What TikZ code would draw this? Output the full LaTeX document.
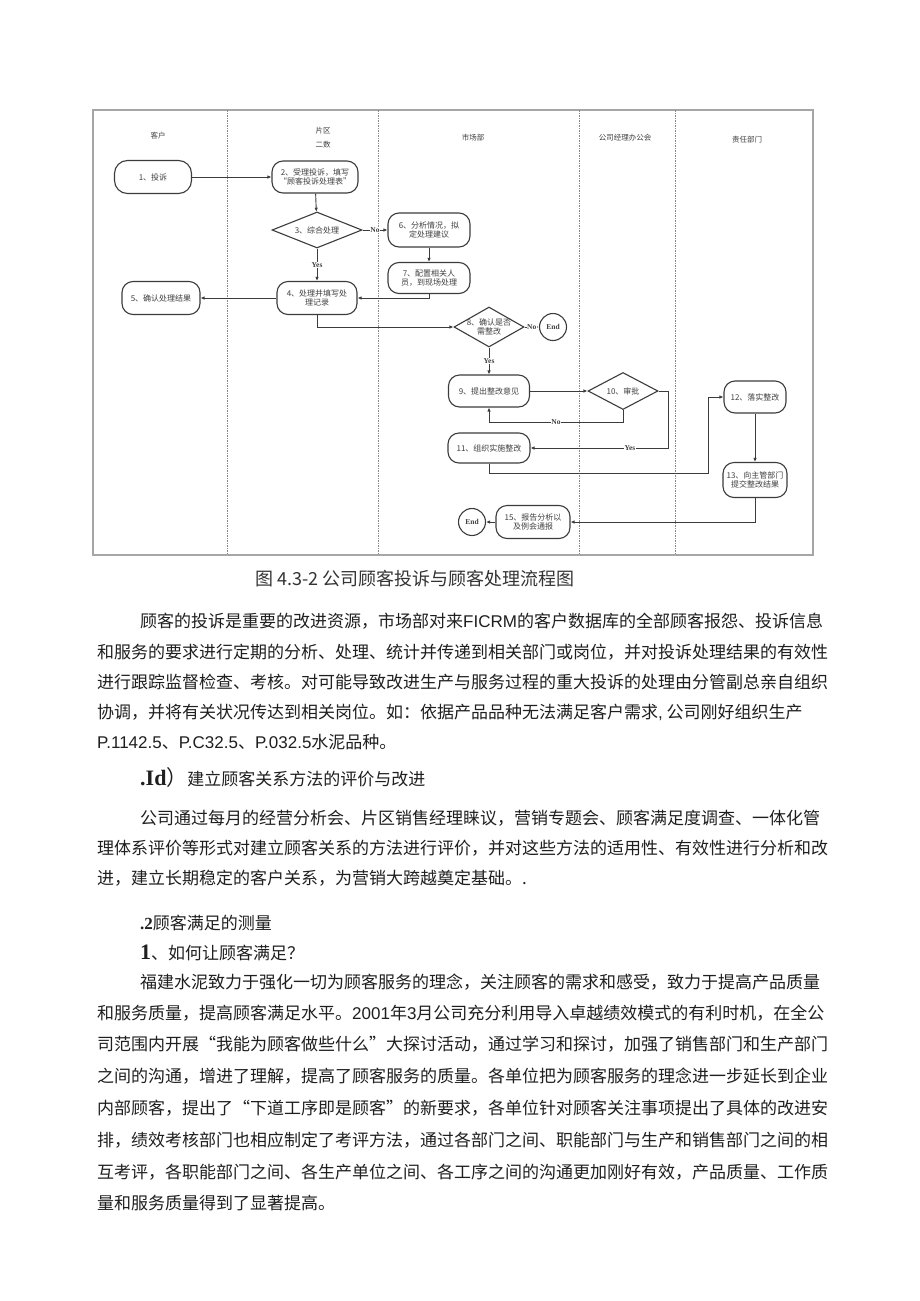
\documentclass[tikz,border=0pt]{standalone}
\usepackage{fontspec}
\setmainfont{Noto Sans CJK SC}
\newfontfamily\timesf{Liberation Serif}
\newfontfamily\arialf{Liberation Sans}
\usetikzlibrary{arrows.meta, shapes.geometric, positioning, calc}
\definecolor{linegray}{HTML}{3C3C3C}
\definecolor{lanegray}{HTML}{8A8A8A}
\definecolor{boxtext}{HTML}{404040}
\tikzset{
  proc/.style={draw=linegray, line width=1.1pt, rounded corners=11pt, align=center, inner sep=1pt, text=boxtext, font=\fontsize{8}{9.5}\selectfont},
  decide/.style={diamond, aspect=1.9, draw=linegray, line width=1.1pt, inner sep=0pt, align=center, text=boxtext, font=\fontsize{8}{9.5}\selectfont},
  endnode/.style={circle, draw=linegray, line width=1.1pt, minimum size=27pt, inner sep=0pt, text=boxtext, font=\timesf\bfseries\fontsize{7.5}{8}\selectfont},
  flow/.style={draw=linegray, line width=0.9pt, -{Latex[length=4pt,width=3.5pt]}},
  yesno/.style={fill=white, inner sep=0.5pt, text=boxtext, font=\timesf\bfseries\fontsize{7.5}{8}\selectfont},
  lane/.style={draw=lanegray, line width=0.8pt, dash pattern=on 2pt off 1.2pt on 0.6pt off 1.2pt},
  lanehead/.style={text=boxtext, align=center, font=\fontsize{7.5}{14}\selectfont},
  body/.style={anchor=west, inner sep=0pt, text=black!88, font=\fontsize{17}{20}\selectfont}
}

\begin{document}
\begin{tikzpicture}[x=1pt, y=-1pt]
  \useasboundingbox (0,0) rectangle (920,1301);
  \fill[white] (0,0) rectangle (920,1301);

  % swim lanes
  \draw[gray!70, line width=1.8pt] (93,110) rectangle (813,555);
  \foreach \x in {227,378,579,675}
    \draw[lane] (\x,110) -- (\x,555);
  \node[lanehead] (h1) at (158,136) {客户};
  \node[lanehead] (h2) at (323,138) {片区\\二数};
  \node[lanehead] (h3) at (473,138) {市场部};
  \node[lanehead] (h4) at (625,138) {公司经理办公会};
  \node[lanehead] (h5) at (747,140) {责任部门};

  % steps
  \node[proc, minimum width=77pt, minimum height=33pt, rounded corners=13pt] (n1) at (153,177) {1、投诉};
  \node[proc, minimum width=86pt, minimum height=32pt] (n2) at (315,177) {2、受理投诉，填写\\“顾客投诉处理表”};
  \node[decide, minimum width=90pt, minimum height=36pt] (n3) at (317,230) {3、综合处理};
  \node[proc, minimum width=80pt, minimum height=33pt] (n4) at (317,298) {4、处理并填写处\\理记录};
  \node[proc, minimum width=78pt, minimum height=33pt] (n5) at (161,298) {5、确认处理结果};
  \node[proc, minimum width=82pt, minimum height=34pt] (n6) at (429,230) {6、分析情况，拟\\定处理建议};
  \node[proc, minimum width=82pt, minimum height=31pt] (n7) at (429,278) {7、配置相关人\\员，到现场处理};
  \node[decide, inner sep=-5pt, aspect=1.75, minimum width=70pt, minimum height=40pt] (n8) at (489,327) {8、确认是否\\需整改};
  \node[endnode] (e1) at (553,327) {End};
  \node[proc, minimum width=81pt, minimum height=32pt] (n9) at (489,391) {9、提出整改意见};
  \node[decide, minimum width=70pt, minimum height=37pt] (n10) at (623,391) {10、审批};
  \node[proc, minimum width=82pt, minimum height=30pt] (n11) at (489,448) {11、组织实施整改};
  \node[proc, minimum width=62pt, minimum height=32pt] (n12) at (755,397) {12、落实整改};
  \node[proc, minimum width=64pt, minimum height=35pt] (n13) at (755,480) {13、向主管部门\\提交整改结果};
  \node[proc, minimum width=74pt, minimum height=33pt] (n15) at (533,522) {15、报告分析以\\及例会通报};
  \node[endnode] (e2) at (472,522) {End};
  \coordinate (turn1) at (708,473);

  % connectors
  \draw[flow] (n1) -- (n2);
  \draw[flow] (n2) -- (n3);
  \draw[flow] (n3) -- node[yesno] {No} (n6);
  \draw[flow] (n3) -- node[yesno] {Yes} (n4);
  \draw[flow] (n6) -- (n7);
  \draw[flow] (n7.south) |- (n4.east);
  \draw[flow] (n4) -- (n5);
  \draw[flow] (n4.south) |- (n8.west);
  \draw[flow] (n8) -- node[yesno] {No} (e1);
  \draw[flow] (n8) -- node[yesno] {Yes} (n9);
  \draw[flow] (n9) -- (n10);
  \draw[flow] (n10.south) -- ++(0,12) -| node[yesno, pos=0.25] {No} (n9.south);
  \draw[flow] (n10.east) -- ++(10,0) |- node[yesno, pos=0.64] {Yes} (n11.east);
  \draw[flow] (n11.south) |- (turn1) |- (n12.west);
  \draw[flow] (n12) -- (n13);
  \draw[flow] (n13.south) |- (n15.east);
  \draw[flow] (n15) -- (e2);

  \node[text=black!80, font=\fontsize{18}{20}\selectfont] (cap) at (415,579) {图 4.3-2 公司顾客投诉与顾客处理流程图};

  % text below the chart
  \node[body] (p1) at (140,621) {顾客的投诉是重要的改进资源，市场部对来{\arialf FICRM}的客户数据库的全部顾客报怨、投诉信息};
  \node[body] (p2) at (97,652) {和服务的要求进行定期的分析、处理、统计并传递到相关部门或岗位，并对投诉处理结果的有效性};
  \node[body] (p3) at (97,682) {进行跟踪监督检查、考核。对可能导致改进生产与服务过程的重大投诉的处理由分管副总亲自组织};
  \node[body] (p4) at (97,712) {协调，并将有关状况传达到相关岗位。如：依据产品品种无法满足客户需求{\arialf ,} 公司刚好组织生产};
  \node[body] (p5) at (97,742) {{\arialf P.1142.5}、{\arialf P.C32.5}、{\arialf P.032.5}水泥品种。};
  \node[body] (s1) at (140,778) {{\timesf\bfseries\fontsize{22}{24}\selectfont .Id}{\fontsize{21}{24}\selectfont ）}建立顾客关系方法的评价与改进};
  \node[body] (p6) at (140,818) {公司通过每月的经营分析会、片区销售经理睐议，营销专题会、顾客满足度调查、一体化管};
  \node[body] (p7) at (97,848) {理体系评价等形式对建立顾客关系的方法进行评价，并对这些方法的适用性、有效性进行分析和改};
  \node[body] (p8) at (97,878) {进，建立长期稳定的客户关系，为营销大跨越奠定基础。.};
  \node[body] (s2) at (140,923) {{\timesf\bfseries .2}顾客满足的测量};
  \node[body] (s3) at (140,953) {{\timesf\bfseries\fontsize{22}{24}\selectfont 1}、如何让顾客满足？};
  \node[body] (p9) at (140,982) {福建水泥致力于强化一切为顾客服务的理念，关注顾客的需求和感受，致力于提高产品质量};
  \node[body] (p10) at (97,1013) {和服务质量，提高顾客满足水平。{\arialf 2001}年{\arialf 3}月公司充分利用导入卓越绩效模式的有利时机，在全公};
  \node[body] (p11) at (97,1044) {司范围内开展“我能为顾客做些什么”大探讨活动，通过学习和探讨，加强了销售部门和生产部门};
  \node[body] (p12) at (97,1076) {之间的沟通，增进了理解，提高了顾客服务的质量。各单位把为顾客服务的理念进一步延长到企业};
  \node[body] (p13) at (97,1108) {内部顾客，提出了“下道工序即是顾客”的新要求，各单位针对顾客关注事项提出了具体的改进安};
  \node[body] (p14) at (97,1140) {排，绩效考核部门也相应制定了考评方法，通过各部门之间、职能部门与生产和销售部门之间的相};
  \node[body] (p15) at (97,1172) {互考评，各职能部门之间、各生产单位之间、各工序之间的沟通更加刚好有效，产品质量、工作质};
  \node[body] (p16) at (97,1203) {量和服务质量得到了显著提高。};
\end{tikzpicture}
\end{document}
